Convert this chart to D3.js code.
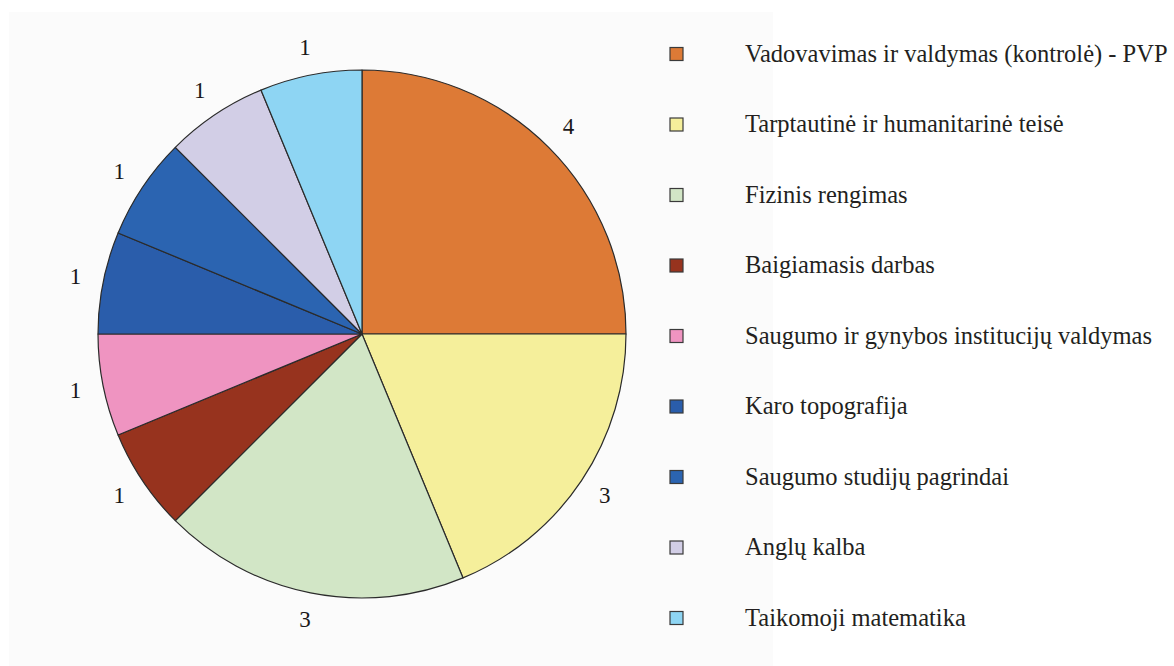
<!DOCTYPE html>
<html>
<head>
<meta charset="utf-8">
<script src="https://cdn.jsdelivr.net/npm/d3@7"></script>
<style>
  html, body { margin: 0; padding: 0; background: #ffffff; }
  svg { display: block; }
</style>
</head>
<body>
<svg id="chart" width="1174" height="666"></svg>
<script>
const categories = [
  "Vadovavimas ir valdymas (kontrolė) - PVP",
  "Tarptautinė ir humanitarinė teisė",
  "Fizinis rengimas",
  "Baigiamasis darbas",
  "Saugumo ir gynybos institucijų valdymas",
  "Karo topografija",
  "Saugumo studijų pagrindai",
  "Anglų kalba",
  "Taikomoji matematika"
];
const values = [4, 3, 3, 1, 1, 1, 1, 1, 1];
const colors = ["#dd7a36", "#f5ef9b", "#d2e6c6", "#97331e", "#ef94c1", "#2a5dab", "#2b64b1", "#d2cee6", "#8ed5f3"];

const data = categories.map((c, i) => ({ name: c, value: values[i], color: colors[i] }));

const svg = d3.select("#chart");

// faint background panel
svg.append("rect")
  .attr("x", 9).attr("y", 12)
  .attr("width", 764).attr("height", 654)
  .attr("fill", "#fbfbfb");

const cx = 362, cy = 334, R = 264, labelR = 292;

const pie = d3.pie().value(d => d.value).sort(null);
const arc = d3.arc().innerRadius(0).outerRadius(R);
const labelArc = d3.arc().innerRadius(labelR).outerRadius(labelR);

const g = svg.append("g").attr("transform", `translate(${cx},${cy})`);
const arcs = pie(data);

g.selectAll("path.slice")
  .data(arcs)
  .join("path")
  .attr("class", "slice")
  .attr("d", arc)
  .attr("fill", d => d.data.color)
  .attr("stroke", "#2b2b2b")
  .attr("stroke-width", 1.2)
  .attr("stroke-linejoin", "round");

g.selectAll("text.lbl")
  .data(arcs)
  .join("text")
  .attr("class", "lbl")
  .attr("transform", d => `translate(${labelArc.centroid(d)})`)
  .attr("text-anchor", "middle")
  .attr("dy", "0.3em")
  .attr("font-family", "'Liberation Serif', 'Times New Roman', serif")
  .attr("font-size", 23)
  .attr("fill", "#1a1718")
  .text(d => d.data.value);

// legend
const legendY = d3.scalePoint()
  .domain(categories)
  .range([54, 618]);

const leg = svg.append("g");
const items = leg.selectAll("g.item")
  .data(data)
  .join("g")
  .attr("class", "item")
  .attr("transform", d => `translate(0,${legendY(d.name)})`);

items.append("rect")
  .attr("x", 670).attr("y", -6.5)
  .attr("width", 13).attr("height", 13)
  .attr("fill", d => d.color)
  .attr("stroke", "#3a3a3a")
  .attr("stroke-width", 1.2);

items.append("text")
  .attr("x", 745)
  .attr("y", 0)
  .attr("dy", "0.32em")
  .attr("font-family", "'Liberation Serif', 'Times New Roman', serif")
  .attr("font-size", 24.5)
  .attr("fill", "#231f20")
  .text(d => d.name);
</script>
</body>
</html>
